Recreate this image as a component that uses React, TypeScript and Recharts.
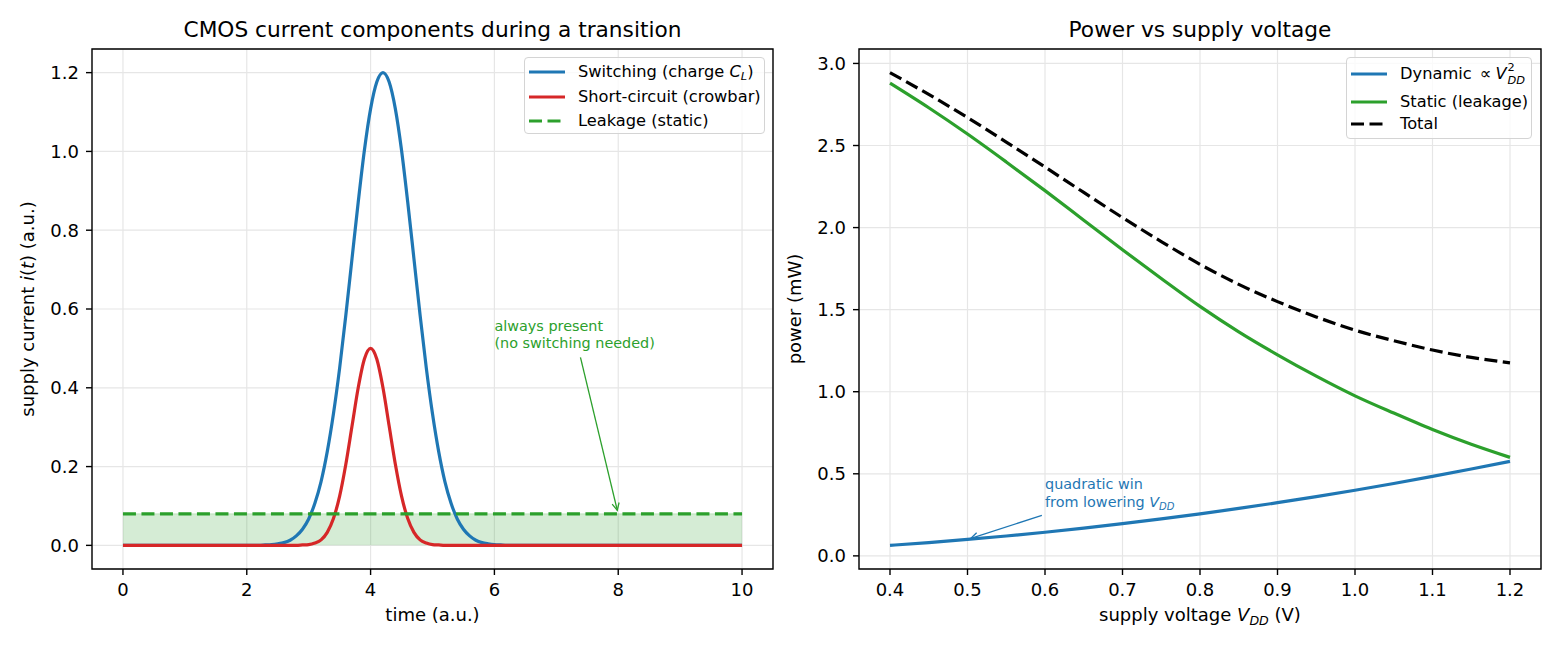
import React from "react";
import {
  Area,
  CartesianGrid,
  ComposedChart,
  Label,
  Line,
  ReferenceArea,
  ReferenceDot,
  ReferenceLine,
  XAxis,
  YAxis,
} from "recharts";

const FONT = "'DejaVu Sans', sans-serif";
const BLUE = "#1f77b4";
const RED = "#d62728";
const GREEN = "#2ca02c";

// left panel: supply current over one transition (time in a.u.)
const timePoints = [
  0, 2.2, 2.3, 2.4, 2.5, 2.6, 2.7, 2.8, 2.9, 3.0, 3.1, 3.2, 3.3, 3.4, 3.5, 3.6, 3.7, 3.8, 3.9, 4.0, 4.1, 4.2,
  4.3, 4.4, 4.5, 4.6, 4.7, 4.8, 4.9, 5.0, 5.1, 5.2, 5.3, 5.4, 5.5, 5.6, 5.7, 5.8, 5.9, 6.0, 6.1, 6.2, 10,
];
const switchingCurrent = [
  0, 0, 0.001, 0.002, 0.004, 0.007, 0.013, 0.024, 0.041, 0.067, 0.107, 0.162, 0.238, 0.334, 0.45, 0.584, 0.728,
  0.871, 1.003, 1.108, 1.176, 1.2, 1.176, 1.108, 1.003, 0.871, 0.728, 0.584, 0.45, 0.334, 0.238, 0.162, 0.107,
  0.067, 0.041, 0.024, 0.013, 0.007, 0.004, 0.002, 0.001, 0, 0,
];
const crowbarCurrent = [
  0, 0, 0, 0, 0, 0, 0, 0, 0.001, 0.002, 0.006, 0.014, 0.033, 0.068, 0.125, 0.206, 0.303, 0.4, 0.473, 0.5, 0.473,
  0.4, 0.303, 0.206, 0.125, 0.068, 0.033, 0.014, 0.006, 0.002, 0.001, 0, 0, 0, 0, 0, 0, 0, 0, 0, 0, 0, 0,
];
const leakageLevel = 0.08;
const timeTicks = [0, 2, 4, 6, 8, 10];
const currentTicks = [0, 0.2, 0.4, 0.6, 0.8, 1.0, 1.2];

// right panel: power vs supply voltage
const supplyVoltage = [0.4, 0.45, 0.5, 0.55, 0.6, 0.65, 0.7, 0.75, 0.8, 0.85, 0.9, 0.95, 1.0, 1.05, 1.1, 1.15, 1.2];
const dynamicPower = [
  0.064, 0.081, 0.1, 0.121, 0.144, 0.169, 0.196, 0.225, 0.256, 0.289, 0.324, 0.361, 0.4, 0.441, 0.484, 0.529, 0.576,
];
const staticPower = [
  2.88, 2.73, 2.57, 2.4, 2.225, 2.045, 1.865, 1.69, 1.52, 1.365, 1.225, 1.095, 0.975, 0.87, 0.77, 0.68, 0.6,
];
const totalPower = [
  2.944, 2.811, 2.67, 2.521, 2.369, 2.214, 2.061, 1.915, 1.776, 1.654, 1.549, 1.456, 1.375, 1.311, 1.254, 1.209, 1.176,
];
const voltageTicks = [0.4, 0.5, 0.6, 0.7, 0.8, 0.9, 1.0, 1.1, 1.2];
const powerTicks = [0, 0.5, 1.0, 1.5, 2.0, 2.5, 3.0];

const currentData = timePoints.map((t, i) => ({
  t,
  switching: switchingCurrent[i],
  crowbar: crowbarCurrent[i],
  leak: leakageLevel,
}));

const powerData = supplyVoltage.map((v, i) => ({
  v,
  dynamic: dynamicPower[i],
  stat: staticPower[i],
  total: totalPower[i],
}));

const tickStyle = { fill: "#000", fontSize: 18, fontFamily: FONT };
const tickLine = { stroke: "#000", strokeWidth: 1.4 };

// open "->" arrow between two data points
const arrowShape = (color: string) => (p: any) => {
  const { x1, y1, x2, y2 } = p;
  const ang = Math.atan2(y2 - y1, x2 - x1);
  const len = 8;
  const spread = 0.46;
  const ax = x2 - len * Math.cos(ang - spread);
  const ay = y2 - len * Math.sin(ang - spread);
  const bx = x2 - len * Math.cos(ang + spread);
  const by = y2 - len * Math.sin(ang + spread);
  return (
    <g>
      <line x1={x1} y1={y1} x2={x2} y2={y2} stroke={color} strokeWidth={1.3} />
      <polyline points={`${ax},${ay} ${x2},${y2} ${bx},${by}`} fill="none" stroke={color} strokeWidth={1.3} />
    </g>
  );
};

function Legend({ left, top, width, height, rows }: any) {
  return (
    <div
      style={{
        position: "absolute",
        left,
        top,
        width,
        height,
        boxSizing: "border-box",
        border: "1.2px solid #d4d4d4",
        borderRadius: 4,
        background: "rgba(255,255,255,0.8)",
        fontFamily: FONT,
        fontSize: 16.25,
        color: "#000",
      }}
    >
      {rows.map((r: any, i: number) => (
        <div
          key={i}
          style={{ position: "absolute", left: 4, top: r.y - 12, height: 24, display: "flex", alignItems: "center" }}
        >
          <svg width={36} height={24} style={{ marginRight: 13 }}>
            <line x1={0} x2={36} y1={12} y2={12} stroke={r.color} strokeWidth={3.2} strokeDasharray={r.dash} />
          </svg>
          <span style={{ whiteSpace: "nowrap", lineHeight: 1 }}>{r.label}</span>
        </div>
      ))}
    </div>
  );
}

export default function App() {
  return (
    <div style={{ position: "absolute", left: 0, top: 0, width: 1560, height: 650, background: "#fff" }}>
      <svg width={1560} height={60} style={{ position: "absolute", left: 0, top: 0 }}>
        <text x={432.5} y={37} textAnchor="middle" fontFamily={FONT} fontSize={21.7}>
          CMOS current components during a transition
        </text>
        <text x={1200} y={37} textAnchor="middle" fontFamily={FONT} fontSize={21.7}>
          Power vs supply voltage
        </text>
      </svg>

      <div style={{ position: "absolute", left: 0, top: 0 }}>
        <ComposedChart width={780} height={650} data={currentData} margin={{ top: 49, right: 7, bottom: 0, left: 0 }}>
          <CartesianGrid stroke="#e6e6e6" strokeWidth={1.2} />
          <XAxis
            dataKey="t"
            type="number"
            domain={[-0.5, 10.5]}
            ticks={timeTicks}
            height={81}
            axisLine={false}
            tickLine={tickLine}
            tickSize={6}
            tickMargin={8}
            tick={tickStyle}
          >
            <Label
              content={({ viewBox }: any) => (
                <text x={viewBox.x + viewBox.width / 2} y={viewBox.y + 52} textAnchor="middle" fontFamily={FONT} fontSize={18}>
                  time (a.u.)
                </text>
              )}
            />
          </XAxis>
          <YAxis
            type="number"
            domain={[-0.06, 1.26]}
            ticks={currentTicks}
            width={92}
            axisLine={false}
            tickLine={tickLine}
            tickSize={6}
            tickMargin={7}
            tick={tickStyle}
            tickFormatter={(v: number) => v.toFixed(1)}
          >
            <Label
              content={({ viewBox }: any) => {
                const x = viewBox.x + 34;
                const y = viewBox.y + viewBox.height / 2;
                return (
                  <text x={x} y={y} transform={`rotate(-90 ${x} ${y})`} textAnchor="middle" fontFamily={FONT} fontSize={18}>
                    supply current <tspan fontStyle="italic">i</tspan>(<tspan fontStyle="italic">t</tspan>) (a.u.)
                  </text>
                );
              }}
            />
          </YAxis>
          <Area
            dataKey="leak"
            type="linear"
            baseValue={0}
            fill={GREEN}
            fillOpacity={0.2}
            stroke={GREEN}
            strokeOpacity={0.2}
            strokeWidth={1}
            isAnimationActive={false}
          />
          <Line dataKey="switching" type="monotone" stroke={BLUE} strokeWidth={3.2} dot={false} isAnimationActive={false} />
          <Line dataKey="crowbar" type="monotone" stroke={RED} strokeWidth={3.2} dot={false} isAnimationActive={false} />
          <Line
            dataKey="leak"
            type="linear"
            stroke={GREEN}
            strokeWidth={3.2}
            strokeDasharray="13 5.5"
            dot={false}
            isAnimationActive={false}
          />
          <ReferenceLine
            segment={[
              { x: 7.39, y: 0.477 },
              { x: 7.985, y: 0.089 },
            ]}
            shape={arrowShape(GREEN)}
          />
          <ReferenceDot
            x={6.0}
            y={0.5}
            shape={(p: any) => (
              <text fontFamily={FONT} fontSize={14.4} fill={GREEN}>
                <tspan x={p.cx} y={p.cy - 17.3}>always present</tspan>
                <tspan x={p.cx} y={p.cy}>(no switching needed)</tspan>
              </text>
            )}
          />
          <ReferenceArea x1={-0.5} x2={10.5} y1={-0.06} y2={1.26} fill="none" stroke="#000" strokeWidth={1.4} />
        </ComposedChart>
      </div>

      <div style={{ position: "absolute", left: 780, top: 0 }}>
        <ComposedChart width={780} height={650} data={powerData} margin={{ top: 49, right: 19, bottom: 0, left: 0 }}>
          <CartesianGrid stroke="#e6e6e6" strokeWidth={1.2} />
          <XAxis
            dataKey="v"
            type="number"
            domain={[0.36, 1.24]}
            ticks={voltageTicks}
            height={81}
            axisLine={false}
            tickLine={tickLine}
            tickSize={6}
            tickMargin={8}
            tick={tickStyle}
            tickFormatter={(v: number) => v.toFixed(1)}
          >
            <Label
              content={({ viewBox }: any) => (
                <text x={viewBox.x + viewBox.width / 2} y={viewBox.y + 52} textAnchor="middle" fontFamily={FONT} fontSize={18}>
                  supply voltage <tspan fontStyle="italic">V</tspan>
                  <tspan fontStyle="italic" fontSize={12.6} dy={4}>DD</tspan>
                  <tspan dy={-4}> (V)</tspan>
                </text>
              )}
            />
          </XAxis>
          <YAxis
            type="number"
            domain={[-0.08, 3.088]}
            ticks={powerTicks}
            width={79}
            axisLine={false}
            tickLine={tickLine}
            tickSize={6}
            tickMargin={7}
            tick={tickStyle}
            tickFormatter={(v: number) => v.toFixed(1)}
          >
            <Label
              content={({ viewBox }: any) => {
                const x = viewBox.x + viewBox.width - 58;
                const y = viewBox.y + viewBox.height / 2;
                return (
                  <text x={x} y={y} transform={`rotate(-90 ${x} ${y})`} textAnchor="middle" fontFamily={FONT} fontSize={18}>
                    power (mW)
                  </text>
                );
              }}
            />
          </YAxis>
          <Line dataKey="dynamic" type="monotone" stroke={BLUE} strokeWidth={3.2} dot={false} isAnimationActive={false} />
          <Line dataKey="stat" type="monotone" stroke={GREEN} strokeWidth={3.2} dot={false} isAnimationActive={false} />
          <Line
            dataKey="total"
            type="monotone"
            stroke="#000"
            strokeWidth={3.2}
            strokeDasharray="13 5.5"
            dot={false}
            isAnimationActive={false}
          />
          <ReferenceLine
            segment={[
              { x: 0.596, y: 0.247 },
              { x: 0.5044, y: 0.107 },
            ]}
            shape={arrowShape(BLUE)}
          />
          <ReferenceDot
            x={0.6}
            y={0.3}
            shape={(p: any) => (
              <text fontFamily={FONT} fontSize={14.4} fill={BLUE}>
                <tspan x={p.cx} y={p.cy - 17.3}>quadratic win</tspan>
                <tspan x={p.cx} y={p.cy}>
                  from lowering <tspan fontStyle="italic">V</tspan>
                  <tspan fontStyle="italic" fontSize={10} dy={3}>DD</tspan>
                </tspan>
              </text>
            )}
          />
          <ReferenceArea x1={0.36} x2={1.24} y1={-0.08} y2={3.088} fill="none" stroke="#000" strokeWidth={1.4} />
        </ComposedChart>
      </div>

      <Legend
        left={524}
        top={57}
        width={241}
        height={77}
        rows={[
          {
            y: 14,
            color: BLUE,
            label: (
              <>
                Switching (charge <i>C</i>
                <i style={{ fontSize: "0.7em", position: "relative", top: "0.3em" }}>L</i>)
              </>
            ),
          },
          { y: 39, color: RED, label: "Short-circuit (crowbar)" },
          { y: 63, color: GREEN, dash: "13 5.5", label: "Leakage (static)" },
        ]}
      />
      <Legend
        left={1346}
        top={57}
        width={186}
        height={82}
        rows={[
          {
            y: 16,
            color: BLUE,
            label: (
              <>
                Dynamic <span style={{ margin: "0 4px 0 3px" }}>∝</span>
                <i>V</i>
                <span style={{ position: "relative", display: "inline-block", width: 24, fontSize: "0.7em" }}>
                  <span style={{ position: "absolute", left: 1, top: -17, lineHeight: 1 }}>2</span>
                  <i style={{ position: "absolute", left: 1, top: -4, lineHeight: 1 }}>DD</i>
                </span>
              </>
            ),
          },
          { y: 44, color: GREEN, label: "Static (leakage)" },
          { y: 66, color: "#000", dash: "13 5.5", label: "Total" },
        ]}
      />
    </div>
  );
}
